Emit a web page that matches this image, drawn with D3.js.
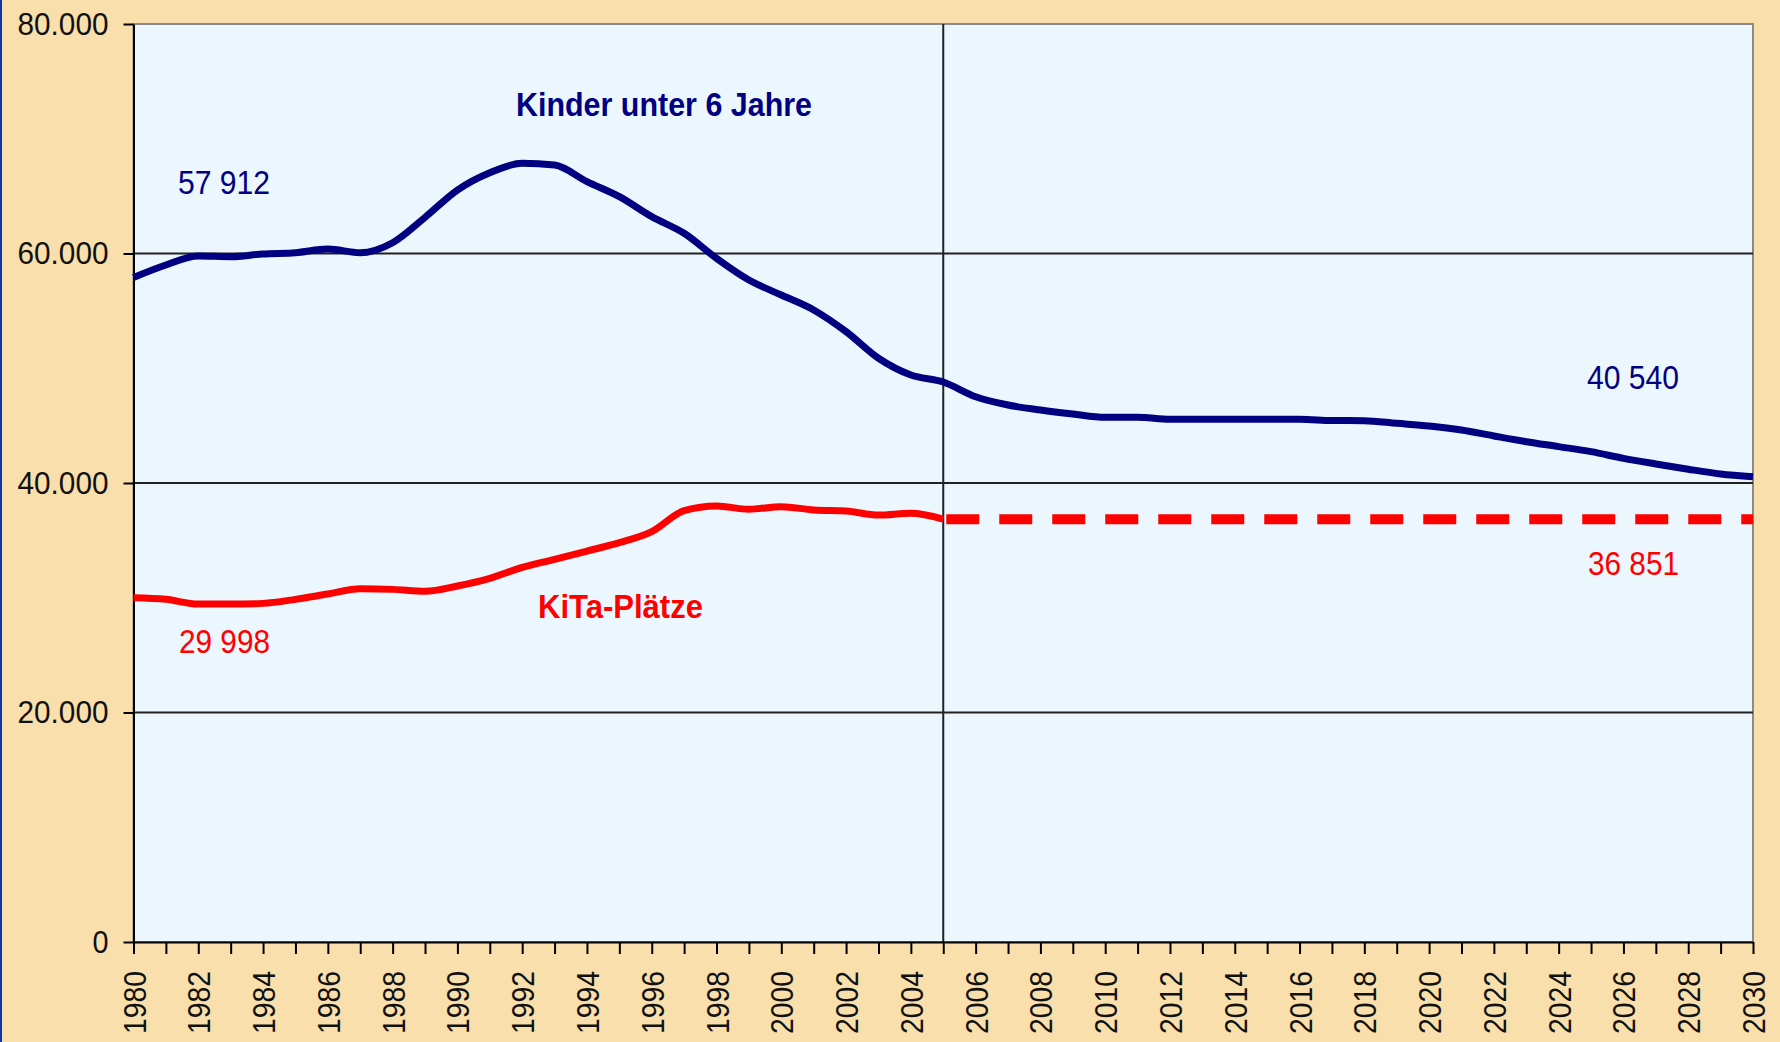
<!DOCTYPE html>
<html>
<head>
<meta charset="utf-8">
<script src="https://cdn.jsdelivr.net/npm/d3@7"></script>
<style>
  body { margin: 0; background: #F9DFAB; }
  svg { display: block; font-family: Arial, "Liberation Sans", sans-serif; }
</style>
</head>
<body>
<div id="chart"></div>
<script>
// Kinder unter 6 Jahre, 1980-2030
const years = d3.range(1980, 2031);
const kinder = [
  57912, 59000, 59780, 59720, 59960, 60070, 60390, 60070, 60940, 63150,
  65530, 67040, 67860, 67710, 66260, 64950, 63210, 61760, 59580, 57690,
  56380, 55080, 53190, 50870, 49410, 48800, 47520, 46800, 46360, 46010,
  45720, 45720, 45550, 45550, 45550, 45550, 45550, 45450, 45430, 45200,
  44970, 44620, 44100, 43600, 43170, 42730, 42150, 41660, 41200, 40790,
  40540
];

// KiTa-Plätze, 1980-2005
const kitaYears = d3.range(1980, 2006);
const kita = [
  29998, 29860, 29450, 29450, 29510, 29860, 30330, 30790, 30730, 30560,
  31020, 31690, 32650, 33350, 34070, 34800, 35760, 37590, 38000, 37710,
  37940, 37650, 37560, 37210, 37360, 36851
];

// KiTa-Plätze fortgeschrieben 2005-2030
const kitaForecastYears = [2005, 2030];
const kitaForecast = [36851, 36851];

const yTicks = [0, 20000, 40000, 60000, 80000];

const W = 1780, H = 1042;
const margin = { top: 24, right: 27, bottom: 100, left: 133.5 };
const width = W - margin.left - margin.right;
const height = H - margin.top - margin.bottom;

const navy = "#000080";
const red = "#FF0000";

const svg = d3.select("#chart")
  .append("svg")
  .attr("width", W)
  .attr("height", H);

svg.append("rect").attr("width", W).attr("height", H).attr("fill", "#F9DFAB");
svg.append("rect").attr("width", 2).attr("height", H).attr("fill", "#0B35A0");

const g = svg.append("g")
  .attr("transform", `translate(${margin.left},${margin.top})`);

const x = d3.scaleLinear().domain([1980, 2030]).range([0, width]);
const y = d3.scaleLinear().domain([0, 80000]).range([height, 0]);

const de = d3.formatLocale({ decimal: ",", thousands: ".", grouping: [3], currency: ["", " €"] });
const fmt = de.format(",.0f");

// plot area
g.append("rect")
  .attr("width", width)
  .attr("height", height)
  .attr("fill", "#EBF6FD")
  .attr("stroke", "#8a8a8a")
  .attr("stroke-width", 2);

// gridlines
g.selectAll(".grid")
  .data([20000, 40000, 60000])
  .enter().append("line")
  .attr("x1", 0).attr("x2", width)
  .attr("y1", d => y(d)).attr("y2", d => y(d))
  .attr("stroke", "#222")
  .attr("stroke-width", 2);

// divider at 2005
g.append("line")
  .attr("x1", x(2005)).attr("x2", x(2005))
  .attr("y1", 0).attr("y2", height)
  .attr("stroke", "#222")
  .attr("stroke-width", 2);

// axes
const yAxis = g.append("g")
  .call(d3.axisLeft(y).tickValues(yTicks).tickSize(10).tickSizeOuter(0).tickPadding(15).tickFormat(fmt));
yAxis.select(".domain").attr("stroke", "#000").attr("stroke-width", 2);
yAxis.selectAll(".tick line").attr("stroke", "#000").attr("stroke-width", 2);
yAxis.selectAll("text")
  .attr("fill", "#111")
  .style("font-size", "32px")
  .attr("textLength", d => d === 0 ? 16 : 91)
  .attr("lengthAdjust", "spacingAndGlyphs");

const xAxis = g.append("g")
  .attr("transform", `translate(0,${height})`)
  .call(d3.axisBottom(x).tickValues(years).tickSize(12).tickSizeOuter(0)
    .tickFormat(d => d % 2 === 0 ? d : ""));
xAxis.select(".domain").attr("stroke", "#000").attr("stroke-width", 2);
xAxis.selectAll(".tick line").attr("stroke", "#000").attr("stroke-width", 2);
xAxis.selectAll("text")
  .attr("fill", "#111")
  .style("font-size", "32px")
  .style("text-anchor", "end")
  .attr("transform", "rotate(-90)")
  .attr("x", -29)
  .attr("y", 0)
  .attr("dy", "0.36em")
  .filter(d => d % 2 === 0)
  .attr("textLength", 63)
  .attr("lengthAdjust", "spacingAndGlyphs");

// lines
const line = d3.line()
  .x(d => x(d[0]))
  .y(d => y(d[1]))
  .curve(d3.curveMonotoneX);

g.append("path")
  .datum(d3.zip(kitaForecastYears, kitaForecast))
  .attr("fill", "none")
  .attr("stroke", red)
  .attr("stroke-width", 10)
  .attr("stroke-dasharray", "33 20")
  .attr("stroke-dashoffset", -3)
  .attr("d", line);

g.append("path")
  .datum(d3.zip(kitaYears, kita))
  .attr("fill", "none")
  .attr("stroke", red)
  .attr("stroke-width", 7)
  .attr("stroke-linejoin", "round")
  .attr("d", line);

g.append("path")
  .datum(d3.zip(years, kinder))
  .attr("fill", "none")
  .attr("stroke", navy)
  .attr("stroke-width", 7)
  .attr("stroke-linejoin", "round")
  .attr("d", line);

// labels (positions in page pixels)
const labels = [
  { text: "Kinder unter 6 Jahre", x: 516, y: 116, len: 296, color: navy, bold: true },
  { text: "57 912", x: 178, y: 194, len: 92, color: navy },
  { text: "40 540", x: 1587, y: 389, len: 92, color: navy },
  { text: "KiTa-Plätze", x: 538, y: 618, len: 165, color: red, bold: true },
  { text: "29 998", x: 179, y: 653, len: 91, color: red },
  { text: "36 851", x: 1588, y: 575, len: 91, color: red }
];

svg.selectAll(".lbl")
  .data(labels)
  .enter().append("text")
  .attr("class", "lbl")
  .attr("x", d => d.x)
  .attr("y", d => d.y)
  .attr("fill", d => d.color)
  .attr("font-weight", d => d.bold ? "bold" : "normal")
  .attr("textLength", d => d.len)
  .attr("lengthAdjust", "spacingAndGlyphs")
  .style("font-size", "33px")
  .text(d => d.text);
</script>
</body>
</html>
